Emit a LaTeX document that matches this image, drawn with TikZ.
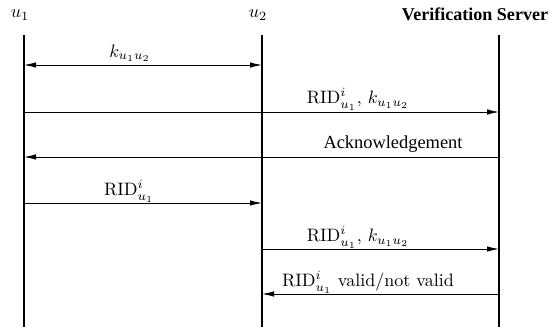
\documentclass[tikz,border=0pt]{standalone}
\usepackage{fontspec}
\newfontfamily\timesfont{Liberation Serif}
\usetikzlibrary{arrows.meta}
\begin{document}
\begin{tikzpicture}[x=1pt,y=-1pt,
  lifeline/.style={line width=1.4pt},
  msg/.style={line width=0.9pt,-{Latex[length=12pt,width=5.5pt]}},
  msgboth/.style={line width=0.9pt,{Latex[length=12pt,width=5.5pt]}-{Latex[length=12pt,width=5.5pt]}},
  lbl/.style={inner sep=0pt,scale=1.8,transform shape},
  tlbl/.style={inner sep=0pt,font=\timesfont,scale=1.84,transform shape}]
\useasboundingbox (0,0) rectangle (550,327);

% participants
\node[lbl] (h1) at (20,15) {$u_1$};
\node[lbl] (h2) at (258,15) {$u_2$};
\node[tlbl,font=\timesfont\bfseries,scale=0.98] (h3) at (475,14) {Verification Server};

% lifelines
\coordinate (t1) at (24,35);  \coordinate (b1) at (24,327);
\coordinate (t2) at (262,35); \coordinate (b2) at (262,327);
\coordinate (t3) at (499,35); \coordinate (b3) at (499,327);
\draw[lifeline] (t1) -- (b1);
\draw[lifeline] (t2) -- (b2);
\draw[lifeline] (t3) -- (b3);

% message end points
\coordinate (a1) at (24,65);  \coordinate (a2) at (262,65);
\coordinate (c1) at (24,112); \coordinate (c3) at (499,112);
\coordinate (d1) at (24,157); \coordinate (d3) at (499,157);
\coordinate (e1) at (24,203); \coordinate (e2) at (262,203);
\coordinate (f2) at (262,249); \coordinate (f3) at (499,249);
\coordinate (g2) at (262,294); \coordinate (g3) at (499,294);

% messages
\draw[msgboth] (a1) -- (a2);
\draw[msg] (c1) -- (c3);
\draw[msg] (d3) -- (d1);
\draw[msg] (e1) -- (e2);
\draw[msg] (f2) -- (f3);
\draw[msg] (g3) -- (g2);

% labels
\node[lbl] (l1) at (130,53) {$k_{u_1u_2}$};
\node[lbl] (l2) at (358,99) {$\mathrm{RID}^i_{u_1},\,k_{u_1u_2}$};
\node[tlbl] (l3) at (393,144) {Acknowledgement};
\node[lbl] (l4) at (129,191) {$\mathrm{RID}^i_{u_1}$};
\node[lbl] (l5) at (358,237) {$\mathrm{RID}^i_{u_1},\,k_{u_1u_2}$};
\node[lbl] (l6) at (368,282) {$\mathrm{RID}^i_{u_1}$ valid/not valid};
\end{tikzpicture}
\end{document}
